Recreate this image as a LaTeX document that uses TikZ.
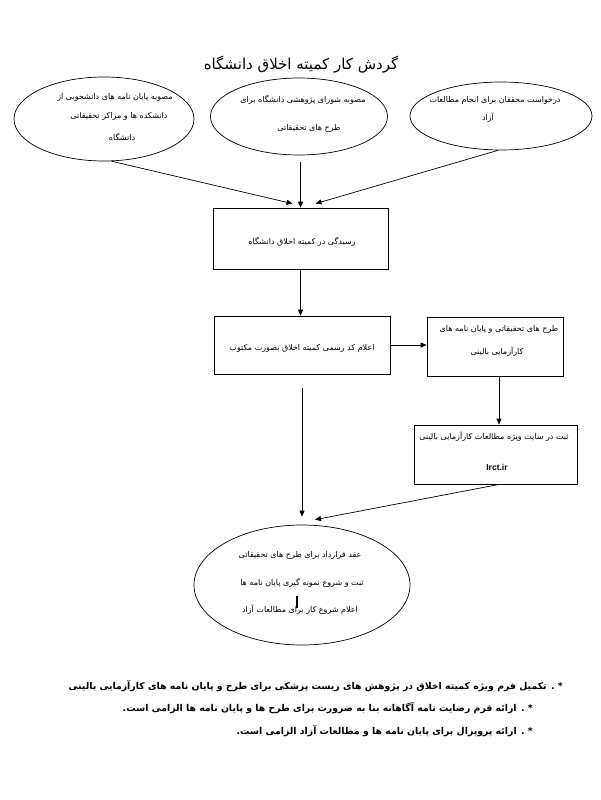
\documentclass[tikz,border=0pt]{standalone}
\usepackage{fontspec}
\usetikzlibrary{shapes.geometric,arrows.meta}
\TeXXeTstate=1
\newfontfamily\arabicfont[Script=Arabic]{DejaVu Sans}
\newfontfamily\latinbold{Liberation Sans}
\newcommand{\fa}[1]{\arabicfont\beginR #1\endR}
\tikzset{
  boxnode/.style={draw, line width=0.7pt, inner sep=0pt},
  ovalnode/.style={draw, ellipse, line width=0.7pt, inner sep=0pt},
  arr/.style={-{Triangle[length=6pt,width=5pt]}, line width=0.7pt},
  smalltxt/.style={inner sep=0pt, font=\fontsize{8}{9.5}\selectfont},
  titletxt/.style={inner sep=0pt, font=\fontsize{15}{18}\selectfont},
  notetxt/.style={inner sep=0pt, font=\fontsize{9.35}{11.5}\selectfont\bfseries},
}
\begin{document}
\begin{tikzpicture}[x=1pt,y=-1pt]
\fill[white] (0,0) rectangle (600,800);
\path[use as bounding box] (0,0) rectangle (600,800);

% title
\node[titletxt] (title) at (301,65) {\fa{گردش کار کمیته اخلاق دانشگاه}};

% top ellipses
\node[ovalnode, minimum width=180pt, minimum height=84pt] (e1) at (104,119) {};
\node[ovalnode, minimum width=177pt, minimum height=77pt] (e2) at (299,116.5) {};
\node[ovalnode, minimum width=182pt, minimum height=68pt] (e3) at (501,116) {};

\node[smalltxt] (e1a) at (115,97) {\fa{مصوبه پایان نامه های دانشجویی از}};
\node[smalltxt] (e1b) at (119,116) {\fa{دانشکده ها و مراکز تحقیقاتی}};
\node[smalltxt] (e1c) at (122,137) {\fa{دانشگاه}};

\node[smalltxt] (e2a) at (303,100) {\fa{مصوبه شورای پژوهشی دانشگاه برای}};
\node[smalltxt] (e2b) at (309,128) {\fa{طرح های تحقیقاتی}};

\node[smalltxt] (e3a) at (495,100) {\fa{درخواست محققان برای انجام مطالعات}};
\node[smalltxt] (e3b) at (488,118) {\fa{آزاد}};

% boxes
\node[boxnode, minimum width=175pt, minimum height=61pt] (b1) at (300.5,238.5) {};
\node[smalltxt] (b1t) at (302,242) {\fa{رسیدگی در کمیته اخلاق دانشگاه}};

\node[boxnode, minimum width=176pt, minimum height=58pt] (b2) at (302,345) {};
\node[smalltxt] (b2t) at (302,348) {\fa{اعلام کد رسمی کمیته اخلاق بصورت مکتوب}};

\node[boxnode, minimum width=136pt, minimum height=59pt] (b3) at (495,346.5) {};
\node[smalltxt] (b3a) at (499,329) {\fa{طرح های تحقیقاتی و پایان نامه های}};
\node[smalltxt] (b3b) at (497,352) {\fa{کارآزمایی بالینی}};

\node[boxnode, minimum width=163pt, minimum height=59pt] (b4) at (495.5,454.5) {};
\node[smalltxt] (b4a) at (494,437) {\fa{ثبت در سایت ویژه مطالعات کارآزمایی بالینی}};
\node[inner sep=0pt, font=\latinbold\bfseries\fontsize{8.5}{10}\selectfont] (b4b) at (497,467) {Irct.ir};

% bottom ellipse
\node[ovalnode, minimum width=216pt, minimum height=120pt] (e4) at (302,585) {};
\node[smalltxt] (e4a) at (300,555) {\fa{عقد قرارداد برای طرح های تحقیقاتی}};
\node[smalltxt] (e4b) at (302,583) {\fa{ثبت و شروع نمونه گیری پایان نامه ها}};
\node[smalltxt] (e4c) at (300,610) {\fa{اعلام شروع کار برای مطالعات آزاد}};
\coordinate (cur1) at (297,596);
\coordinate (cur2) at (297,608);
\draw[line width=1.8pt] (cur1) -- (cur2);

% connectors
\draw[arr] (e1.-80) -- ([xshift=-8pt,yshift=4pt]b1.north);
\draw[arr, shorten <=7pt] (e2.south -| b1.north) -- (b1.north);
\draw[arr] (e3.-95) -- ([xshift=15pt,yshift=4pt]b1.north);
\draw[arr] (b1.south) -- (b1.south |- b2.north);
\draw[arr] (b2.east) -- (b2.east -| b3.west);
\draw[arr] ([xshift=4pt]b3.south) -- ([xshift=4pt]b3.south |- b4.north);
\draw[arr, shorten <=14pt, shorten >=8pt] (b2.south) -- (b2.south |- e4.north);
\draw[arr] ([xshift=4pt]b4.south) -- ([xshift=13pt,yshift=5pt]e4.north);

% notes
\node[notetxt, anchor=east] (n1) at (563,686) {\fa{* . تکمیل فرم ویژه کمیته اخلاق در پژوهش های زیست پزشکی برای طرح و پایان نامه های کارآزمایی بالینی}};
\node[notetxt, anchor=east] (n2) at (533,708) {\fa{* . ارائه فرم رضایت نامه آگاهانه بنا به ضرورت برای طرح ها و پایان نامه ها الزامی است.}};
\node[notetxt, anchor=east] (n3) at (533,731) {\fa{* . ارائه پروپزال برای پایان نامه ها و مطالعات آزاد الزامی است.}};
\end{tikzpicture}
\end{document}
